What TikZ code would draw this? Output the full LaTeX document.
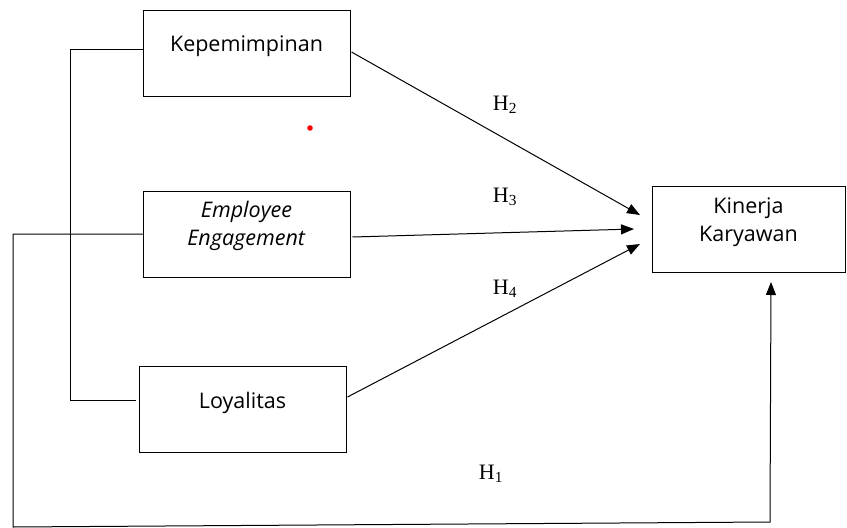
\documentclass[tikz,border=0pt]{standalone}
\usepackage{fontspec}
\setmainfont{Open Sans}
\newfontfamily\hfont{Liberation Serif}
\usetikzlibrary{arrows.meta}
\begin{document}
\begin{tikzpicture}[x=1pt,y=-1pt,
  box/.style={draw, line width=1pt, minimum width=207pt, minimum height=86pt, inner sep=0pt},
  boxtext/.style={font=\fontsize{21.5}{28}\selectfont, align=center},
  conn/.style={line width=1pt},
  arr/.style={line width=1pt, -{Triangle[length=13pt,width=10pt]}},
  hlab/.style={font=\hfont\fontsize{22}{24}\selectfont}]
\useasboundingbox (0,0) rectangle (847,528);
\node[box, label={[boxtext, yshift=7pt]center:Kepemimpinan}] (kep) at (246.5,53) {};
\node[box, label={[boxtext, yshift=8pt]center:\textit{Employee}\\\textit{Engagement}}] (ee) at (246.5,234) {};
\node[box, label={[boxtext, yshift=6pt]center:Loyalitas}] (loy) at (242.5,409) {};
\node[box, minimum width=193pt, label={[boxtext, yshift=7pt]center:Kinerja\\Karyawan}] (kin) at (748.5,229) {};
\coordinate (t2) at (640,215);
\coordinate (t3) at (634,229);
\coordinate (t4) at (640,244);
\coordinate (t1) at (771,282);
\draw[arr] (kep.east) ++(1,-1) -- (t2);
\draw[arr] (ee.east) ++(2,3) -- (t3);
\draw[arr] (loy.east) ++(1,-12) -- (t4);
\draw[conn] (kep.west) ++(0,-4) -- ++(-72,0) |- ([xshift=-3pt,yshift=9pt]loy.west);
\draw[conn, line cap=round] (ee.west) -- (13,234) -- (13,527) -- (770,522);
\draw[arr] (770,522) -- (t1);
\node[hlab] (h2) at (505,105) {H\textsubscript{2}};
\node[hlab] (h3) at (505,197) {H\textsubscript{3}};
\node[hlab] (h4) at (505,289) {H\textsubscript{4}};
\node[hlab] (h1) at (491,474) {H\textsubscript{1}};
\fill[red] (310,128) circle (2.8pt);
\end{tikzpicture}
\end{document}
